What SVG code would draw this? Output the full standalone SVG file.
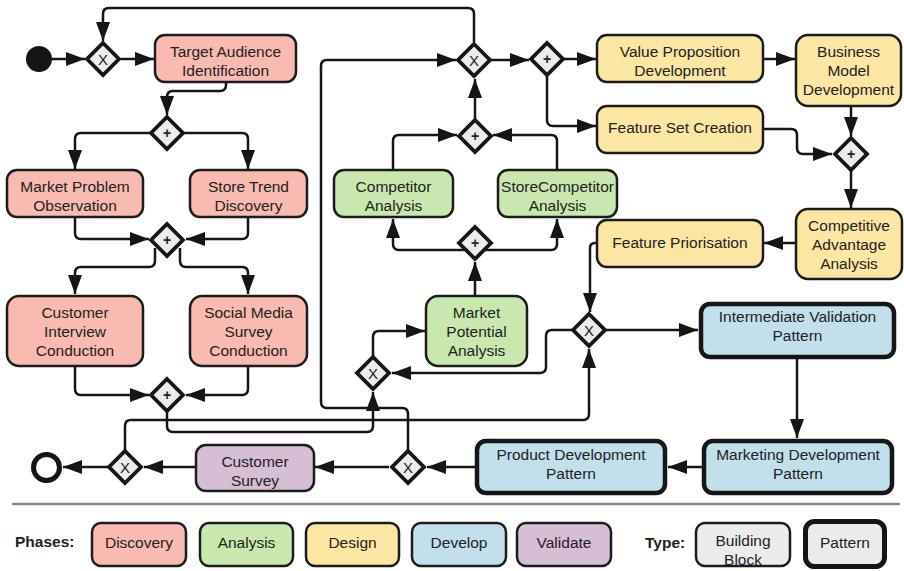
<svg xmlns="http://www.w3.org/2000/svg" width="904" height="571" viewBox="0 0 904 571">
  <defs>
    <marker id="arrow" markerUnits="userSpaceOnUse" markerWidth="20" markerHeight="14" refX="19" refY="7" orient="auto">
      <path d="M0,0 L19,7 L0,14 Z" fill="#151515"/>
    </marker>
    <style>
      .conn { fill: none; stroke: #151515; stroke-width: 2.5; marker-end: url(#arrow); }
      .plain { fill: none; stroke: #151515; stroke-width: 2.5; }
      .node { stroke: #1c1c1c; stroke-width: 2.5; }
      .pattern { stroke: #161616; stroke-width: 4.5; }
      .discovery { fill: #F9BAB1; }
      .analysis { fill: #C9E8AF; }
      .design { fill: #FCE6A4; }
      .develop { fill: #C2DFEC; }
      .validate { fill: #D6BED5; }
      .neutral { fill: #EBEBEB; }
      .gw { fill: #ECECEC; stroke: #161616; stroke-width: 3.8; stroke-linejoin: miter; }
      text { font-family: "Liberation Sans", Arial, sans-serif; font-size: 15.5px; fill: #222; text-anchor: middle; }
      .gwx { font-size: 15px; }
      .gwp { font-size: 14px; font-weight: bold; }
      .legend-title { font-weight: bold; text-anchor: start; font-size: 15.5px; fill: #222; }
    </style>
  </defs>

  <!-- connectors -->
  <g id="connectors">
    <path class="conn" d="M51,59 H85"/>
    <path class="conn" d="M121,59 H154"/>
    <path class="conn" d="M474,42 V14 Q474,8 468,8 H109 Q103,8 103,14 V41"/>
    <path class="conn" d="M226,83 V85 Q226,91 220,91 H173 Q167,91 167,97 V115"/>
    <path class="conn" d="M152,133 H81 Q75,133 75,139 V169"/>
    <path class="conn" d="M182,133 H242 Q248,133 248,139 V169"/>
    <path class="conn" d="M75,218 V233 Q75,239 81,239 H149"/>
    <path class="conn" d="M248,218 V233 Q248,239 242,239 H186"/>
    <path class="conn" d="M155,248 V261 Q155,267 149,267 H81 Q75,267 75,273 V294"/>
    <path class="conn" d="M180,248 V261 Q180,267 186,267 H242 Q248,267 248,273 V294"/>
    <path class="conn" d="M75,366 V389 Q75,395 81,395 H149"/>
    <path class="conn" d="M248,366 V389 Q248,395 242,395 H186"/>
    <path class="conn" d="M167,405 V426 Q167,432 173,432 H367 Q373,432 373,426 V392"/>
    <path class="conn" d="M408,455 V414 Q408,408 402,408 H327 Q321,408 321,402 V66 Q321,60 327,60 H456"/>
    <path class="conn" d="M125,455 V426 Q125,420 131,420 H583 Q589,420 589,414 V349"/>
    <path class="conn" d="M373,362 V337 Q373,331 379,331 H425"/>
    <path class="conn" d="M475,295 V262"/>
    <path class="conn" d="M465,250 H399 Q393,250 393,244 V219"/>
    <path class="conn" d="M485,250 H551 Q557,250 557,244 V219"/>
    <path class="conn" d="M393,169 V141 Q393,135 399,135 H457"/>
    <path class="conn" d="M557,169 V141 Q557,135 551,135 H493"/>
    <path class="conn" d="M475,125 V79"/>
    <path class="conn" d="M490,60 H529"/>
    <path class="conn" d="M564,59 H596"/>
    <path class="conn" d="M547,70 V120 Q547,126 553,126 H596"/>
    <path class="conn" d="M763,59 H795"/>
    <path class="conn" d="M851,107 V136"/>
    <path class="conn" d="M763,129 H791 Q797,129 797,135 V148 Q797,154 803,154 H832"/>
    <path class="conn" d="M851,165 V208"/>
    <path class="conn" d="M795,243 H764"/>
    <path class="conn" d="M597,243 H595 Q590,243 590,248 V312"/>
    <path class="conn" d="M600,330 H698"/>
    <path class="conn" d="M580,330 H552 Q546,330 546,336 V367 Q546,373 540,373 H392"/>
    <path class="conn" d="M797,359 V438"/>
    <path class="conn" d="M702,467 H668"/>
    <path class="conn" d="M475,467 H427"/>
    <path class="conn" d="M389,467 H315"/>
    <path class="conn" d="M195,467 H144"/>
    <path class="conn" d="M114,467 H63"/>
  </g>

  <!-- events -->
  <g id="start">
    <circle cx="39" cy="59" r="13" fill="#151515"/>
  </g>
  <g id="end">
    <circle cx="46.5" cy="467.5" r="13" fill="#fff" stroke="#151515" stroke-width="5"/>
  </g>

  <!-- gateways -->
  <g id="gw-entry">
    <polygon class="gw" points="103,43 119,59 103,75 87,59"/>
    <text class="gwx" x="103" y="64.5">X</text>
  </g>
  <g id="gw-discovery-split">
    <polygon class="gw" points="167,117 183,133 167,149 151,133"/>
    <text class="gwp" x="167" y="138">+</text>
  </g>
  <g id="gw-discovery-join">
    <polygon class="gw" points="167,224 183,240 167,256 151,240"/>
    <text class="gwp" x="167" y="245">+</text>
  </g>
  <g id="gw-survey-join">
    <polygon class="gw" points="167,379 183,395 167,411 151,395"/>
    <text class="gwp" x="167" y="400">+</text>
  </g>
  <g id="gw-design-entry">
    <polygon class="gw" points="474,44 490,60 474,76 458,60"/>
    <text class="gwx" x="474" y="65.5">X</text>
  </g>
  <g id="gw-design-split">
    <polygon class="gw" points="547,43 563,59 547,75 531,59"/>
    <text class="gwp" x="547" y="64">+</text>
  </g>
  <g id="gw-analysis-join">
    <polygon class="gw" points="475,120 491,136 475,152 459,136"/>
    <text class="gwp" x="475" y="141">+</text>
  </g>
  <g id="gw-design-join">
    <polygon class="gw" points="851,138 867,154 851,170 835,154"/>
    <text class="gwp" x="851" y="159">+</text>
  </g>
  <g id="gw-analysis-split">
    <polygon class="gw" points="475,227 491,243 475,259 459,243"/>
    <text class="gwp" x="475" y="248">+</text>
  </g>
  <g id="gw-validation">
    <polygon class="gw" points="589,314 605,330 589,346 573,330"/>
    <text class="gwx" x="589" y="335.5">X</text>
  </g>
  <g id="gw-potential">
    <polygon class="gw" points="373,357 389,373 373,389 357,373"/>
    <text class="gwx" x="373" y="378.5">X</text>
  </g>
  <g id="gw-loop">
    <polygon class="gw" points="408,451 424,467 408,483 392,467"/>
    <text class="gwx" x="408" y="472.5">X</text>
  </g>
  <g id="gw-exit">
    <polygon class="gw" points="125,451 141,467 125,483 109,467"/>
    <text class="gwx" x="125" y="472.5">X</text>
  </g>

  <!-- discovery -->
  <g id="target-audience">
    <rect class="node discovery" x="155" y="35" width="141" height="47" rx="10"/>
    <text x="225.5" y="57">Target Audience</text>
    <text x="225.5" y="76">Identification</text>
  </g>
  <g id="market-problem">
    <rect class="node discovery" x="7" y="170" width="136" height="47" rx="10"/>
    <text x="75" y="192">Market Problem</text>
    <text x="75" y="211">Observation</text>
  </g>
  <g id="store-trend">
    <rect class="node discovery" x="190" y="170" width="117" height="47" rx="10"/>
    <text x="248.5" y="192">Store Trend</text>
    <text x="248.5" y="211">Discovery</text>
  </g>
  <g id="customer-interview">
    <rect class="node discovery" x="7" y="296" width="136" height="70" rx="12"/>
    <text x="75" y="318">Customer</text>
    <text x="75" y="337">Interview</text>
    <text x="75" y="356">Conduction</text>
  </g>
  <g id="social-media">
    <rect class="node discovery" x="190" y="296" width="117" height="70" rx="12"/>
    <text x="248.5" y="318">Social Media</text>
    <text x="248.5" y="337">Survey</text>
    <text x="248.5" y="356">Conduction</text>
  </g>

  <!-- analysis -->
  <g id="competitor">
    <rect class="node analysis" x="334" y="170" width="119" height="47" rx="10"/>
    <text x="393.5" y="192">Competitor</text>
    <text x="393.5" y="211">Analysis</text>
  </g>
  <g id="store-competitor">
    <rect class="node analysis" x="498" y="170" width="119" height="47" rx="10"/>
    <text x="557.5" y="192">StoreCompetitor</text>
    <text x="557.5" y="211">Analysis</text>
  </g>
  <g id="market-potential">
    <rect class="node analysis" x="426" y="296" width="101" height="70" rx="12"/>
    <text x="476.5" y="318">Market</text>
    <text x="476.5" y="337">Potential</text>
    <text x="476.5" y="356">Analysis</text>
  </g>

  <!-- design -->
  <g id="value-proposition">
    <rect class="node design" x="597" y="35" width="166" height="47" rx="10"/>
    <text x="680" y="57">Value Proposition</text>
    <text x="680" y="76">Development</text>
  </g>
  <g id="business-model">
    <rect class="node design" x="796" y="35" width="105" height="71" rx="12"/>
    <text x="848.5" y="57">Business</text>
    <text x="848.5" y="76">Model</text>
    <text x="848.5" y="95">Development</text>
  </g>
  <g id="feature-set">
    <rect class="node design" x="597" y="106" width="166" height="47" rx="10"/>
    <text x="680" y="133">Feature Set Creation</text>
  </g>
  <g id="competitive-advantage">
    <rect class="node design" x="796" y="209" width="106" height="70" rx="12"/>
    <text x="849" y="231">Competitive</text>
    <text x="849" y="250">Advantage</text>
    <text x="849" y="269">Analysis</text>
  </g>
  <g id="feature-priorisation">
    <rect class="node design" x="597" y="220" width="166" height="47" rx="10"/>
    <text x="680" y="247.5">Feature Priorisation</text>
  </g>

  <!-- develop (patterns) -->
  <g id="intermediate-validation">
    <rect class="pattern develop" x="701" y="304" width="193" height="53" rx="9"/>
    <text x="797.5" y="322">Intermediate Validation</text>
    <text x="797.5" y="341">Pattern</text>
  </g>
  <g id="marketing-development">
    <rect class="pattern develop" x="704" y="441" width="188" height="52" rx="9"/>
    <text x="798" y="460">Marketing Development</text>
    <text x="798" y="479">Pattern</text>
  </g>
  <g id="product-development">
    <rect class="pattern develop" x="477" y="441" width="188" height="52" rx="9"/>
    <text x="571" y="460">Product Development</text>
    <text x="571" y="479">Pattern</text>
  </g>

  <!-- validate -->
  <g id="customer-survey">
    <rect class="node validate" x="196" y="445" width="118" height="46" rx="10"/>
    <text x="255" y="467">Customer</text>
    <text x="255" y="486">Survey</text>
  </g>

  <!-- legend -->
  <g id="legend">
    <line x1="12" y1="504" x2="900" y2="504" stroke="#8a8a8a" stroke-width="2.5"/>
    <text class="legend-title" x="15" y="547">Phases:</text>
    <rect class="node discovery" x="92" y="523" width="94" height="43" rx="9"/>
    <text x="139" y="548">Discovery</text>
    <rect class="node analysis" x="200" y="523" width="93" height="43" rx="9"/>
    <text x="246.5" y="548">Analysis</text>
    <rect class="node design" x="306" y="523" width="93" height="43" rx="9"/>
    <text x="352.5" y="548">Design</text>
    <rect class="node develop" x="412" y="523" width="94" height="43" rx="9"/>
    <text x="459" y="548">Develop</text>
    <rect class="node validate" x="517" y="523" width="94" height="43" rx="9"/>
    <text x="564" y="548">Validate</text>
    <text class="legend-title" x="645" y="548">Type:</text>
    <rect class="node neutral" x="696" y="523" width="94" height="43" rx="9"/>
    <text x="743" y="545.5">Building</text>
    <text x="743" y="564.5">Block</text>
    <rect class="neutral" x="805.5" y="521.5" width="79" height="45" rx="9" stroke="#161616" stroke-width="5"/>
    <text x="845" y="548">Pattern</text>
  </g>
</svg>
